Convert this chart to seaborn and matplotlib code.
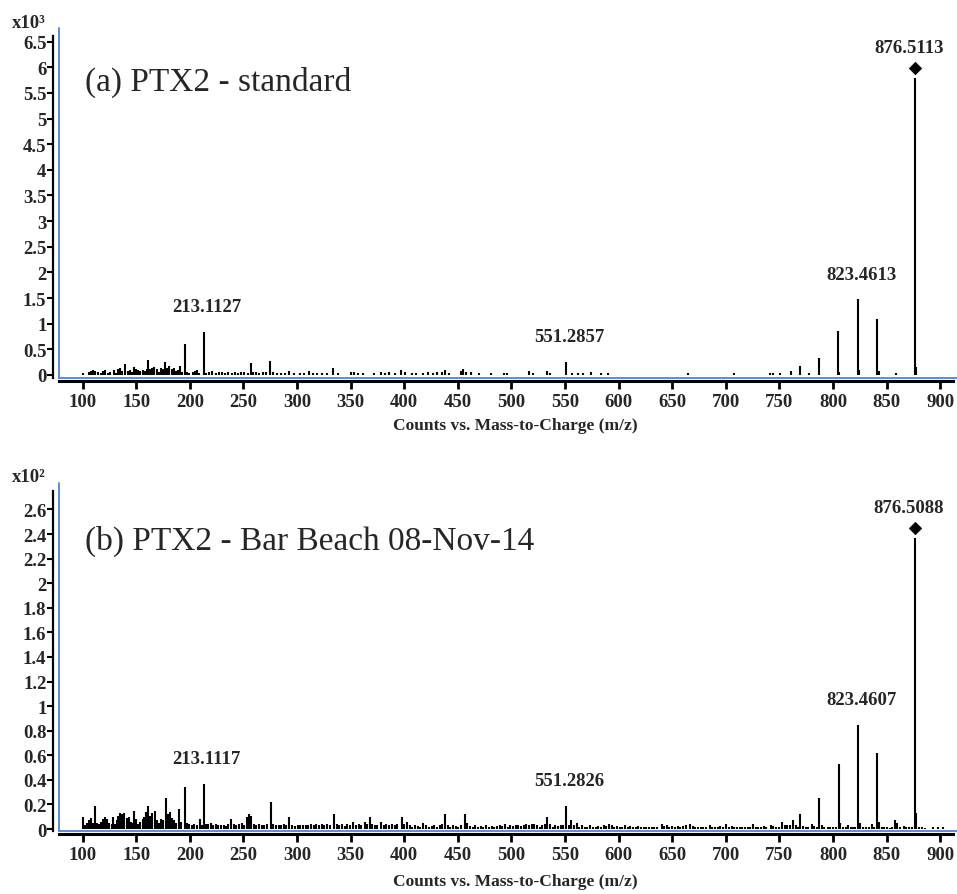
import numpy as np
import matplotlib
matplotlib.use("Agg")
import matplotlib.pyplot as plt
import matplotlib.transforms as mtransforms
import seaborn as sns

# ---------------- data ----------------
# (a) PTX2 standard, intensity in x10^3 counts
std_mz = [100.3, 106, 108, 110, 112, 114, 117, 119, 121, 124, 126, 129, 131, 133, 135, 137, 140, 142, 144, 146,
          148, 150, 152, 154, 156, 158, 160, 161.1, 163, 165, 167, 169, 171, 173, 175, 177.1, 179, 181, 183, 185,
          187, 189, 191, 193, 195.1, 197, 199, 203, 205, 207, 209, 213.1, 215, 218, 221, 224, 227, 230, 233, 236,
          239, 242, 245, 248, 251, 254, 257.1, 259, 262, 265, 268, 271, 275.1, 278, 281, 285, 289, 293, 297, 303,
          307, 311, 315, 319, 323, 328, 334, 338, 350, 353, 357, 362, 372, 378, 382, 386, 391, 397, 401, 407,
          411, 418, 422, 427, 431, 435, 438, 442, 453, 455, 458, 462, 470, 481, 493, 496, 516, 520, 533, 536,
          551.3, 557, 562, 567, 574, 584, 590, 665, 708, 741, 744, 751, 761, 769, 778, 787, 805, 806, 823.5, 824.5,
          841.5, 842.5, 859, 876.5, 877.5]
std_int = [0.03, 0.06, 0.08, 0.09, 0.08, 0.06, 0.04, 0.07, 0.09, 0.04, 0.05, 0.09, 0.04, 0.11, 0.13, 0.08, 0.21, 0.07, 0.09, 0.06,
           0.15, 0.12, 0.09, 0.07, 0.10, 0.08, 0.12, 0.29, 0.11, 0.14, 0.15, 0.11, 0.06, 0.13, 0.12, 0.26, 0.14, 0.17, 0.11, 0.13,
           0.08, 0.10, 0.17, 0.06, 0.60, 0.05, 0.04, 0.05, 0.08, 0.10, 0.04, 0.84, 0.04, 0.06, 0.08, 0.04, 0.05, 0.05, 0.04, 0.05,
           0.04, 0.05, 0.04, 0.05, 0.06, 0.04, 0.23, 0.06, 0.05, 0.04, 0.06, 0.05, 0.27, 0.05, 0.04, 0.03, 0.03, 0.08, 0.03, 0.03,
           0.04, 0.07, 0.03, 0.04, 0.04, 0.03, 0.13, 0.04, 0.06, 0.05, 0.04, 0.03, 0.04, 0.05, 0.04, 0.05, 0.03, 0.09, 0.05, 0.04,
           0.03, 0.04, 0.05, 0.03, 0.05, 0.06, 0.09, 0.03, 0.07, 0.12, 0.06, 0.05, 0.03, 0.04, 0.03, 0.03, 0.07, 0.03, 0.08, 0.04,
           0.26, 0.03, 0.03, 0.03, 0.06, 0.03, 0.03, 0.03, 0.03, 0.04, 0.03, 0.04, 0.08, 0.18, 0.04, 0.33, 0.86, 0.05, 1.48, 0.09,
           1.09, 0.07, 0.03, 5.80, 0.16]

# (b) PTX2 Bar Beach 08-Nov-14, intensity in x10^2 counts
bb_mz = [100.7, 102, 104, 106, 108, 110, 111.8, 113, 115, 117, 119, 121, 123, 125, 127, 128.5, 130, 132, 133.5, 135,
         137, 139, 141, 143, 145, 146.5, 148.3, 150, 152, 154, 156, 157.5, 159.4, 161.2, 163, 165, 167.8, 169.5, 171, 173,
         175, 177.5, 179.5, 181.9, 183.5, 185.5, 187.5, 190, 192, 195.1, 197, 199.5, 202, 204, 206.5, 209.4, 211, 213.1, 215, 217,
         219.5, 221.5, 224, 226.5, 229, 231.5, 234, 236, 238.5, 241, 243.5, 246, 248.5, 251, 253.5, 255.5, 257.5, 259.5, 262, 264.5,
         267, 269.5, 272, 275.5, 278, 280.5, 283, 285.5, 288, 290, 293, 295.5, 298, 300.5, 303, 305.5, 308, 310.5, 313, 315.5,
         318, 320.5, 323, 325.5, 328, 330.5, 334.5, 337, 339.5, 342, 344.5, 347, 349.5, 352.5, 355, 357.5, 360, 363, 365.5, 367.7,
         370, 372.5, 375, 378.5, 381, 383.5, 386, 388.5, 391, 393.5, 397.8, 400, 402.5, 405, 407.5, 410, 412.5, 415, 418, 420.5,
         423, 425.5, 428, 430.5, 433, 435.5, 438.2, 440.5, 443, 445.5, 448, 450.5, 453, 456.5, 459, 461.5, 464, 466.5, 469, 471.5,
         474, 476.5, 479, 481.5, 484, 486.5, 489, 491.5, 494, 496.5, 499, 501.5, 504, 506.5, 509, 511.5, 514, 516.5, 519, 521.5,
         524, 526.5, 529, 531, 533.5, 536, 538.5, 541, 543.5, 546, 548.5, 551.3, 553.5, 556, 558.5, 561, 563.5, 566, 568.5, 571,
         573.5, 576, 578.5, 581, 583.5, 586, 588.5, 591, 593.5, 596, 598.5, 601, 603.5, 606, 608.5, 611, 613.5, 616, 618.5, 621,
         623.5, 626, 628.5, 631, 633.5, 636, 640.2, 642.5, 645, 647.5, 650, 652.5, 655, 657.5, 660, 662.5, 666.6, 669, 671.5, 674,
         676.5, 679, 681.5, 685, 687.5, 690, 692.5, 695, 697.5, 700.5, 703, 705.5, 708, 710.5, 713, 715.5, 718, 720.5, 723, 725.4,
         728, 730.5, 733, 735.5, 738, 742, 744.5, 747, 749.5, 752.3, 755, 757.5, 760, 763, 765.5, 767.5, 769.7, 772, 774.5, 777,
         780, 782.5, 785, 787.2, 789.5, 792, 795, 797.5, 800, 802.5, 805.5, 807, 809.5, 812, 814, 816.5, 819, 821, 823.5, 825.5,
         828, 831, 833.5, 836, 838.5, 841.5, 843, 845.5, 848, 850.5, 853, 855.5, 858, 860, 862.5, 866, 868.5, 871, 873.5, 876.5,
         877.7, 880, 883, 886, 893, 898, 903]
bb_int = [0.095, 0.03, 0.05, 0.07, 0.09, 0.05, 0.19, 0.05, 0.04, 0.06, 0.08, 0.095, 0.08, 0.05, 0.04, 0.095, 0.04, 0.07, 0.11, 0.13,
          0.12, 0.13, 0.09, 0.095, 0.06, 0.05, 0.15, 0.08, 0.04, 0.06, 0.08, 0.095, 0.135, 0.19, 0.11, 0.13, 0.15, 0.07, 0.05, 0.08,
          0.07, 0.25, 0.12, 0.135, 0.09, 0.07, 0.05, 0.16, 0.06, 0.34, 0.05, 0.04, 0.03, 0.04, 0.035, 0.08, 0.03, 0.37, 0.04, 0.04,
          0.05, 0.03, 0.04, 0.03, 0.035, 0.03, 0.025, 0.04, 0.08, 0.04, 0.03, 0.04, 0.05, 0.035, 0.10, 0.12, 0.11, 0.04, 0.03, 0.04,
          0.035, 0.035, 0.045, 0.22, 0.04, 0.03, 0.035, 0.03, 0.04, 0.03, 0.095, 0.03, 0.025, 0.03, 0.03, 0.035, 0.03, 0.035, 0.04, 0.03,
          0.04, 0.035, 0.04, 0.03, 0.04, 0.035, 0.12, 0.04, 0.035, 0.04, 0.025, 0.04, 0.03, 0.06, 0.035, 0.04, 0.03, 0.055, 0.04, 0.095,
          0.04, 0.03, 0.035, 0.06, 0.035, 0.04, 0.035, 0.04, 0.03, 0.045, 0.095, 0.04, 0.055, 0.03, 0.02, 0.03, 0.025, 0.02, 0.05, 0.03,
          0.02, 0.025, 0.03, 0.02, 0.03, 0.04, 0.12, 0.03, 0.02, 0.03, 0.025, 0.02, 0.035, 0.12, 0.05, 0.025, 0.02, 0.03, 0.02, 0.025,
          0.02, 0.03, 0.02, 0.025, 0.02, 0.025, 0.03, 0.025, 0.04, 0.02, 0.03, 0.025, 0.035, 0.03, 0.025, 0.035, 0.04, 0.03, 0.045, 0.04,
          0.03, 0.02, 0.03, 0.04, 0.095, 0.04, 0.02, 0.03, 0.025, 0.03, 0.035, 0.19, 0.03, 0.07, 0.03, 0.05, 0.02, 0.035, 0.015, 0.02,
          0.03, 0.015, 0.02, 0.025, 0.02, 0.03, 0.025, 0.045, 0.03, 0.02, 0.025, 0.02, 0.015, 0.03, 0.02, 0.025, 0.02, 0.015, 0.025, 0.02,
          0.015, 0.02, 0.02, 0.015, 0.02, 0.015, 0.045, 0.025, 0.03, 0.02, 0.025, 0.02, 0.025, 0.02, 0.025, 0.03, 0.04, 0.025, 0.02, 0.02,
          0.015, 0.02, 0.015, 0.03, 0.02, 0.015, 0.02, 0.025, 0.02, 0.04, 0.02, 0.025, 0.02, 0.015, 0.02, 0.02, 0.015, 0.02, 0.02, 0.04,
          0.02, 0.015, 0.02, 0.025, 0.02, 0.03, 0.025, 0.02, 0.015, 0.055, 0.035, 0.03, 0.035, 0.07, 0.03, 0.02, 0.12, 0.025, 0.015, 0.02,
          0.04, 0.025, 0.02, 0.25, 0.03, 0.02, 0.015, 0.02, 0.015, 0.02, 0.53, 0.05, 0.02, 0.015, 0.03, 0.02, 0.015, 0.02, 0.85, 0.05,
          0.02, 0.015, 0.02, 0.04, 0.02, 0.62, 0.055, 0.02, 0.015, 0.02, 0.01, 0.02, 0.07, 0.05, 0.02, 0.025, 0.02, 0.015, 0.02, 2.37,
          0.13, 0.02, 0.015, 0.01, 0.015, 0.015, 0.015]

std_labels_mz = [213.1, 551.3, 823.5]
std_labels = ["213.1127", "551.2857", "823.4613"]
std_prec_mz = 876.5
std_prec_int = 5.80
std_prec_label = "876.5113"

bb_labels_mz = [213.1, 551.3, 823.5]
bb_labels = ["213.1117", "551.2826", "823.4607"]
bb_prec_mz = 876.5
bb_prec_int = 2.37
bb_prec_label = "876.5088"

x_ticks = [100, 150, 200, 250, 300, 350, 400, 450, 500, 550, 600, 650, 700, 750, 800, 850, 900]
std_yticks = [0, 0.5, 1, 1.5, 2, 2.5, 3, 3.5, 4, 4.5, 5, 5.5, 6, 6.5]
std_yticklabels = ["0", "0.5", "1", "1.5", "2", "2.5", "3", "3.5", "4", "4.5", "5", "5.5", "6", "6.5"]
bb_yticks = [0, 0.2, 0.4, 0.6, 0.8, 1, 1.2, 1.4, 1.6, 1.8, 2, 2.2, 2.4, 2.6]
bb_yticklabels = ["0", "0.2", "0.4", "0.6", "0.8", "1", "1.2", "1.4", "1.6", "1.8", "2", "2.2", "2.4", "2.6"]

titles = ["(a) PTX2 - standard", "(b) PTX2 - Bar Beach 08-Nov-14"]
scale_labels = ["x10\u00b3", "x10\u00b2"]
xlabel = "Counts vs. Mass-to-Charge (m/z)"

# ---------------- style ----------------
sns.set_theme(style="ticks")
plt.rcParams["font.family"] = ["Liberation Serif", "DejaVu Serif"]
plt.rcParams["font.weight"] = "bold"

W, H = 957, 895
fig = plt.figure(figsize=(W / 100, H / 100), dpi=100)
BLUE = "#4f82d6"
TICK_FS = 13.5


def px_axes(left, top, right, bottom):
    return fig.add_axes([left / W, 1 - bottom / H, (right - left) / W, (bottom - top) / H])


ax1 = px_axes(59, 37, 953, 379)
ax2 = px_axes(59, 492, 953, 832)

panels = [
    (ax1, std_mz, std_int, (-0.06, 6.61), std_yticks, std_yticklabels, std_labels_mz, std_labels,
     std_prec_mz, std_prec_int, std_prec_label, 23, 342, 0.866, -0.114),
    (ax2, bb_mz, bb_int, (-0.016, 2.75), bb_yticks, bb_yticklabels, bb_labels_mz, bb_labels,
     bb_prec_mz, bb_prec_int, bb_prec_label, 478, 340, 0.856, -0.1235),
]

for i, (ax, mz, inten, ylim, yt, ytl, lmz, ltxt, pmz, pint, plab, sc_y, hpx, ty, xly) in enumerate(panels):
    ax.vlines(mz, 0, inten, color="black", linewidth=1.5)
    # precursor diamond, drawn 10 px above the peak top
    sns.scatterplot(x=[pmz], y=[pint], marker="D", color="black", s=40, edgecolor="black",
                    ax=ax, legend=False, zorder=5)
    coll = ax.collections[-1]
    coll.set_offset_transform(ax.transData + mtransforms.ScaledTranslation(0, 10 / 100, fig.dpi_scale_trans))
    coll.set_clip_on(False)

    ax.set_xlim(78, 912)
    ax.set_ylim(*ylim)
    ax.set_xticks(x_ticks)
    ax.set_xticklabels([str(t) for t in x_ticks])
    ax.set_yticks(yt)
    ax.set_yticklabels(ytl)
    ax.tick_params(axis="x", direction="out", length=6, width=2, pad=3, labelsize=TICK_FS, color="black")
    ax.tick_params(axis="y", direction="out", length=4, width=1.5, pad=1, labelsize=TICK_FS, color="black")
    for lab in ax.get_xticklabels() + ax.get_yticklabels():
        lab.set_fontweight("bold")

    ax.spines["top"].set_visible(False)
    ax.spines["right"].set_visible(False)
    ax.spines["left"].set_position(("outward", 4))
    ax.spines["bottom"].set_position(("outward", 2))
    ax.spines["left"].set_linewidth(1.6)
    ax.spines["bottom"].set_linewidth(2.2)
    ax.spines["left"].set_color("black")
    ax.spines["bottom"].set_color("black")

    # blue frame lines
    ax.plot([0, 0], [0, 1 + 8 / hpx], transform=ax.transAxes, color=BLUE, lw=1.3, clip_on=False, zorder=1)
    ax.plot([0, 1 + 4 / 894], [0, 0], transform=ax.transAxes, color=BLUE, lw=1.3, clip_on=False, zorder=1)

    for m, t in zip(lmz, ltxt):
        idx = mz.index(m)
        ax.annotate(t, xy=(m, inten[idx]), xytext=(3, 25), textcoords="offset pixels",
                    ha="center", va="center", fontsize=TICK_FS, fontweight="bold")
    ax.annotate(plab, xy=(pmz, pint), xytext=(-6, 30), textcoords="offset pixels",
                ha="center", va="center", fontsize=TICK_FS, fontweight="bold", annotation_clip=False)

    ax.text(0.029, ty, titles[i], transform=ax.transAxes,
            fontsize=24, fontweight="normal", ha="left", va="center")
    ax.set_xlabel(xlabel, fontsize=12.5, fontweight="bold")
    ax.xaxis.set_label_coords(0.51, xly)
    fig.text(12 / W, 1 - sc_y / H, scale_labels[i], fontsize=13.5, fontweight="bold", ha="left", va="center")

fig.savefig("out.png", dpi=100)
